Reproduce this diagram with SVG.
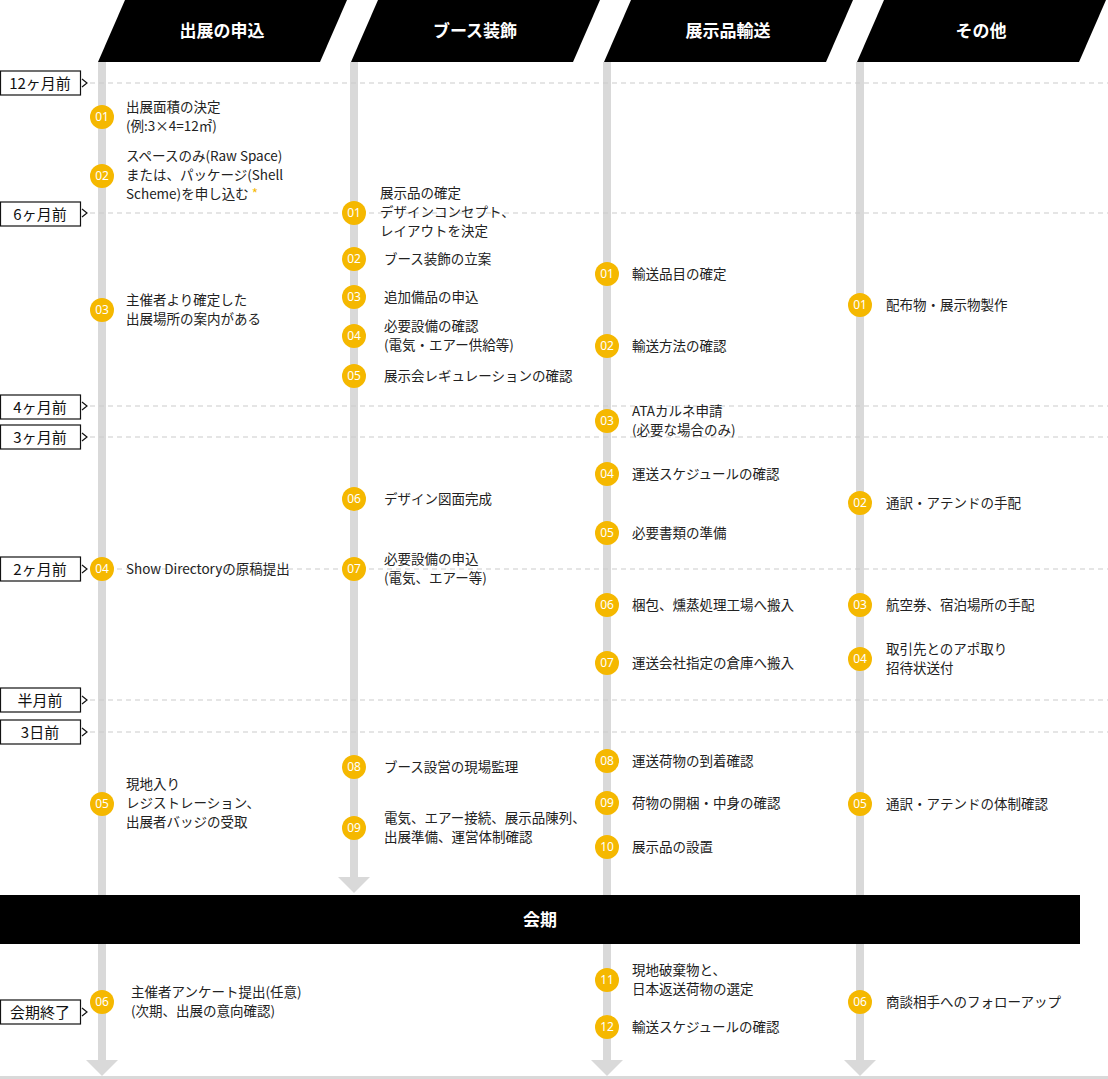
<svg xmlns="http://www.w3.org/2000/svg" width="1108" height="1079" viewBox="0 0 1108 1079">
<style>
text{font-family:"Noto Sans CJK JP","Noto Sans",sans-serif;font-size:13.5px;fill:#222}
.hd{fill:#fff;font-size:17px;font-weight:bold;text-anchor:middle}
.lb{font-size:15px;text-anchor:middle;fill:#111}
.num{fill:#fff;font-size:12px;text-anchor:middle;font-family:"Noto Sans",sans-serif}
.c{fill:#f5b800}
.dash{stroke:#ccc;stroke-width:1.2;stroke-dasharray:5 4}
.box{fill:#fff;stroke:#111;stroke-width:1.2}
.car{fill:none;stroke:#111;stroke-width:1.2}
.tl{fill:#d9d9d9}
</style>
<g id="headers">
<polygon points="125,0 347,0 320,62 98,62" fill="#000"/><text class="hd" x="222" y="37">出展の申込</text>
<polygon points="378,0 600,0 573,62 351,62" fill="#000"/><text class="hd" x="475" y="37">ブース装飾</text>
<polygon points="631,0 853,0 826,62 604,62" fill="#000"/><text class="hd" x="728" y="37">展示品輸送</text>
<polygon points="884,0 1106,0 1079,62 857,62" fill="#000"/><text class="hd" x="981" y="37">その他</text>
</g>
<g id="connectors">
<rect class="tl" x="98" y="62" width="8" height="998"/>
<polygon class="tl" points="86,1060 118,1060 102,1076"/>
<rect class="tl" x="350" y="62" width="8" height="815"/>
<polygon class="tl" points="338,877 370,877 354,893"/>
<rect class="tl" x="603" y="62" width="8" height="998"/>
<polygon class="tl" points="591,1060 623,1060 607,1076"/>
<rect class="tl" x="856" y="62" width="8" height="998"/>
<polygon class="tl" points="844,1060 876,1060 860,1076"/>
<rect class="tl" x="0" y="1076" width="1108" height="3"/>
<line class="dash" x1="90" y1="83" x2="1108" y2="83"/>
<line class="dash" x1="90" y1="213" x2="1108" y2="213"/>
<line class="dash" x1="90" y1="406" x2="1108" y2="406"/>
<line class="dash" x1="90" y1="437" x2="1108" y2="437"/>
<line class="dash" x1="90" y1="569" x2="1108" y2="569"/>
<line class="dash" x1="90" y1="700" x2="1108" y2="700"/>
<line class="dash" x1="90" y1="732" x2="1108" y2="732"/>
</g>
<g id="period">
<rect x="0" y="895" width="1080" height="49" fill="#000"/>
<text class="hd" x="540" y="926">会期</text>
</g>
<g id="labels">
<rect class="box" x="0.5" y="71" width="80" height="24"/><polyline class="car" points="82,79 87,83 82,87"/><text class="lb" x="40" y="89">12ヶ月前</text>
<rect class="box" x="0.5" y="202" width="80" height="24"/><polyline class="car" points="82,209 87,213 82,217"/><text class="lb" x="40" y="220">6ヶ月前</text>
<rect class="box" x="0.5" y="395" width="80" height="24"/><polyline class="car" points="82,402 87,406 82,410"/><text class="lb" x="40" y="413">4ヶ月前</text>
<rect class="box" x="0.5" y="425" width="80" height="24"/><polyline class="car" points="82,433 87,437 82,441"/><text class="lb" x="40" y="443">3ヶ月前</text>
<rect class="box" x="0.5" y="557" width="80" height="24"/><polyline class="car" points="82,565 87,569 82,573"/><text class="lb" x="40" y="575">2ヶ月前</text>
<rect class="box" x="0.5" y="688" width="80" height="24"/><polyline class="car" points="82,696 87,700 82,704"/><text class="lb" x="40" y="706">半月前</text>
<rect class="box" x="0.5" y="720" width="80" height="24"/><polyline class="car" points="82,728 87,732 82,736"/><text class="lb" x="40" y="738">3日前</text>
<rect class="box" x="0.5" y="1000" width="80" height="24"/><polyline class="car" points="82,1008 87,1012 82,1016"/><text class="lb" x="40" y="1018">会期終了</text>
</g>
<g id="col1">
<g id="c1-01"><circle class="c" cx="102" cy="117" r="12"/><text class="num" x="102" y="121">01</text><text x="126" y="112">出展面積の決定</text><text x="126" y="131">(例:3×4=12㎡)</text></g>
<g id="c1-02"><circle class="c" cx="102" cy="176" r="12"/><text class="num" x="102" y="180">02</text><text x="126" y="161">スペースのみ(Raw Space)</text><text x="126" y="180">または、パッケージ(Shell</text><text x="126" y="199">Scheme)を申し込む <tspan fill="#f5b800">*</tspan></text></g>
<g id="c1-03"><circle class="c" cx="102" cy="310" r="12"/><text class="num" x="102" y="314">03</text><text x="126" y="305">主催者より確定した</text><text x="126" y="324">出展場所の案内がある</text></g>
<g id="c1-04"><circle class="c" cx="102" cy="569" r="12"/><text class="num" x="102" y="573">04</text><text x="126" y="574">Show Directoryの原稿提出</text></g>
<g id="c1-05"><circle class="c" cx="102" cy="804" r="12"/><text class="num" x="102" y="808">05</text><text x="126" y="789">現地入り</text><text x="126" y="808">レジストレーション、</text><text x="126" y="827">出展者バッジの受取</text></g>
<g id="c1-06"><circle class="c" cx="102" cy="1002" r="12"/><text class="num" x="102" y="1006">06</text><text x="131" y="997">主催者アンケート提出(任意)</text><text x="131" y="1016">(次期、出展の意向確認)</text></g>
</g>
<g id="col2">
<g id="c2-01"><circle class="c" cx="354" cy="213" r="12"/><text class="num" x="354" y="217">01</text><text x="380" y="198">展示品の確定</text><text x="380" y="217">デザインコンセプト、</text><text x="380" y="236">レイアウトを決定</text></g>
<g id="c2-02"><circle class="c" cx="354" cy="259" r="12"/><text class="num" x="354" y="263">02</text><text x="384" y="264">ブース装飾の立案</text></g>
<g id="c2-03"><circle class="c" cx="354" cy="297" r="12"/><text class="num" x="354" y="301">03</text><text x="384" y="302">追加備品の申込</text></g>
<g id="c2-04"><circle class="c" cx="354" cy="336" r="12"/><text class="num" x="354" y="340">04</text><text x="384" y="331">必要設備の確認</text><text x="384" y="350">(電気・エアー供給等)</text></g>
<g id="c2-05"><circle class="c" cx="354" cy="376" r="12"/><text class="num" x="354" y="380">05</text><text x="384" y="381">展示会レギュレーションの確認</text></g>
<g id="c2-06"><circle class="c" cx="354" cy="499" r="12"/><text class="num" x="354" y="503">06</text><text x="384" y="504">デザイン図面完成</text></g>
<g id="c2-07"><circle class="c" cx="354" cy="569" r="12"/><text class="num" x="354" y="573">07</text><text x="384" y="564">必要設備の申込</text><text x="384" y="583">(電気、エアー等)</text></g>
<g id="c2-08"><circle class="c" cx="354" cy="767" r="12"/><text class="num" x="354" y="771">08</text><text x="384" y="772">ブース設営の現場監理</text></g>
<g id="c2-09"><circle class="c" cx="354" cy="828" r="12"/><text class="num" x="354" y="832">09</text><text x="384" y="823">電気、エアー接続、展示品陳列、</text><text x="384" y="842">出展準備、運営体制確認</text></g>
</g>
<g id="col3">
<g id="c3-01"><circle class="c" cx="607" cy="274" r="12"/><text class="num" x="607" y="278">01</text><text x="632" y="279">輸送品目の確定</text></g>
<g id="c3-02"><circle class="c" cx="607" cy="346" r="12"/><text class="num" x="607" y="350">02</text><text x="632" y="351">輸送方法の確認</text></g>
<g id="c3-03"><circle class="c" cx="607" cy="421" r="12"/><text class="num" x="607" y="425">03</text><text x="632" y="416">ATAカルネ申請</text><text x="632" y="435">(必要な場合のみ)</text></g>
<g id="c3-04"><circle class="c" cx="607" cy="474" r="12"/><text class="num" x="607" y="478">04</text><text x="632" y="479">運送スケジュールの確認</text></g>
<g id="c3-05"><circle class="c" cx="607" cy="533" r="12"/><text class="num" x="607" y="537">05</text><text x="632" y="538">必要書類の準備</text></g>
<g id="c3-06"><circle class="c" cx="607" cy="605" r="12"/><text class="num" x="607" y="609">06</text><text x="632" y="610">梱包、燻蒸処理工場へ搬入</text></g>
<g id="c3-07"><circle class="c" cx="607" cy="663" r="12"/><text class="num" x="607" y="667">07</text><text x="632" y="668">運送会社指定の倉庫へ搬入</text></g>
<g id="c3-08"><circle class="c" cx="607" cy="761" r="12"/><text class="num" x="607" y="765">08</text><text x="632" y="766">運送荷物の到着確認</text></g>
<g id="c3-09"><circle class="c" cx="607" cy="803" r="12"/><text class="num" x="607" y="807">09</text><text x="632" y="808">荷物の開梱・中身の確認</text></g>
<g id="c3-10"><circle class="c" cx="607" cy="847" r="12"/><text class="num" x="607" y="851">10</text><text x="632" y="852">展示品の設置</text></g>
<g id="c3-11"><circle class="c" cx="607" cy="980" r="12"/><text class="num" x="607" y="984">11</text><text x="632" y="975">現地破棄物と、</text><text x="632" y="994">日本返送荷物の選定</text></g>
<g id="c3-12"><circle class="c" cx="607" cy="1027" r="12"/><text class="num" x="607" y="1031">12</text><text x="632" y="1032">輸送スケジュールの確認</text></g>
</g>
<g id="col4">
<g id="c4-01"><circle class="c" cx="860" cy="305" r="12"/><text class="num" x="860" y="309">01</text><text x="886" y="310">配布物・展示物製作</text></g>
<g id="c4-02"><circle class="c" cx="860" cy="503" r="12"/><text class="num" x="860" y="507">02</text><text x="886" y="508">通訳・アテンドの手配</text></g>
<g id="c4-03"><circle class="c" cx="860" cy="605" r="12"/><text class="num" x="860" y="609">03</text><text x="886" y="610">航空券、宿泊場所の手配</text></g>
<g id="c4-04"><circle class="c" cx="860" cy="659" r="12"/><text class="num" x="860" y="663">04</text><text x="886" y="654">取引先とのアポ取り</text><text x="886" y="673">招待状送付</text></g>
<g id="c4-05"><circle class="c" cx="860" cy="804" r="12"/><text class="num" x="860" y="808">05</text><text x="886" y="809">通訳・アテンドの体制確認</text></g>
<g id="c4-06"><circle class="c" cx="860" cy="1002" r="12"/><text class="num" x="860" y="1006">06</text><text x="886" y="1007">商談相手へのフォローアップ</text></g>
</g>
</svg>
